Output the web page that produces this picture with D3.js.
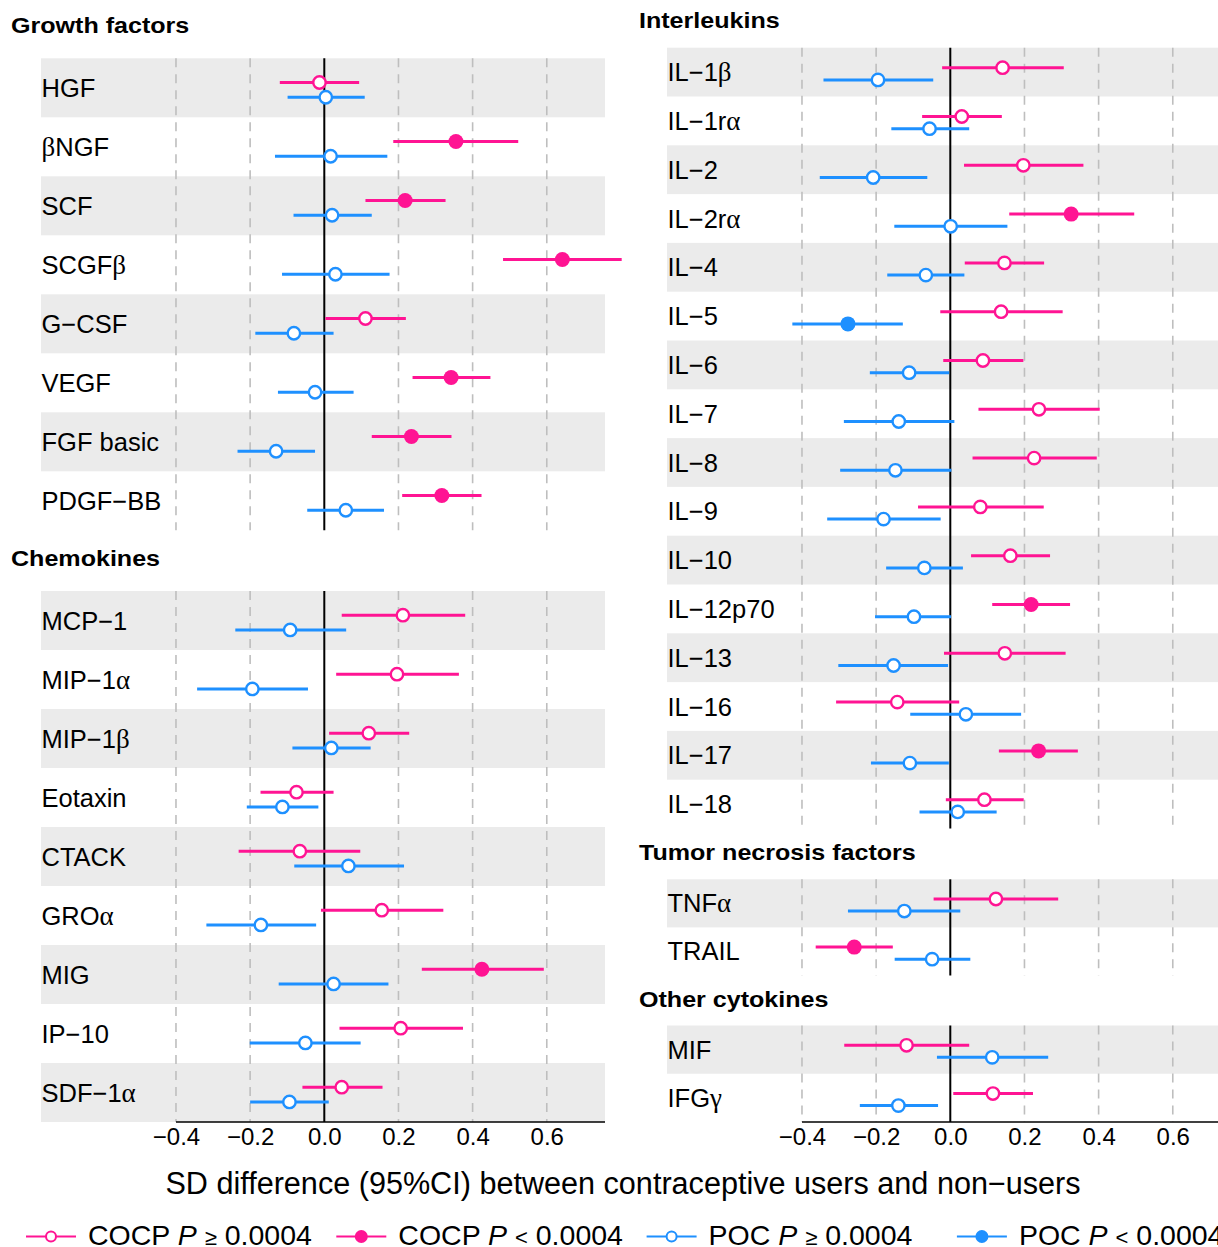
<!DOCTYPE html>
<html>
<head>
<meta charset="utf-8">
<script src="https://cdn.jsdelivr.net/npm/d3@7"></script>
<style>
  body { margin: 0; background: #ffffff; }
  svg { display: block; }
</style>
</head>
<body>
<svg id="chart" width="1218" height="1247"></svg>
<script>
// ---- Data: SD difference (estimate, lower 95% CI, upper 95% CI) ----
// Filled markers flag P < 0.0004.

const growthLabels = ["HGF", "βNGF", "SCF", "SCGFβ", "G−CSF", "VEGF", "FGF basic", "PDGF−BB"];
const growthCocp = [[-0.013, -0.120, 0.094], [0.355, 0.186, 0.523], [0.218, 0.111, 0.327], [0.642, 0.482, 0.802],
                    [0.111, 0.003, 0.220], [0.342, 0.238, 0.448], [0.235, 0.128, 0.343], [0.317, 0.210, 0.424]];
const growthCocpSig = [false, true, true, true, false, true, true, true];
const growthPoc = [[0.004, -0.099, 0.109], [0.017, -0.133, 0.170], [0.021, -0.083, 0.128], [0.030, -0.114, 0.176],
                   [-0.082, -0.186, 0.025], [-0.025, -0.125, 0.079], [-0.130, -0.234, -0.025], [0.058, -0.046, 0.161]];
const growthPocSig = [false, false, false, false, false, false, false, false];

const chemoLabels = ["MCP−1", "MIP−1α", "MIP−1β", "Eotaxin", "CTACK", "GROα", "MIG", "IP−10", "SDF−1α"];
const chemoCocp = [[0.212, 0.047, 0.380], [0.196, 0.032, 0.363], [0.120, 0.013, 0.229], [-0.075, -0.172, 0.025],
                   [-0.066, -0.231, 0.097], [0.155, -0.009, 0.321], [0.425, 0.263, 0.592], [0.206, 0.041, 0.374],
                   [0.047, -0.059, 0.157]];
const chemoCocpSig = [false, false, false, false, false, false, true, false, false];
const chemoPoc = [[-0.092, -0.240, 0.059], [-0.194, -0.343, -0.044], [0.019, -0.086, 0.125], [-0.113, -0.209, -0.016],
                  [0.065, -0.081, 0.215], [-0.171, -0.318, -0.022], [0.025, -0.123, 0.173], [-0.051, -0.201, 0.098],
                  [-0.094, -0.200, 0.012]];
const chemoPocSig = [false, false, false, false, false, false, false, false, false];

const ilLabels = ["IL−1β", "IL−1rα", "IL−2", "IL−2rα", "IL−4", "IL−5", "IL−6", "IL−7", "IL−8", "IL−9",
                  "IL−10", "IL−12p70", "IL−13", "IL−16", "IL−17", "IL−18"];
const ilCocp = [[0.141, -0.022, 0.306], [0.031, -0.076, 0.139], [0.197, 0.037, 0.359], [0.326, 0.159, 0.496],
                [0.146, 0.039, 0.253], [0.137, -0.027, 0.303], [0.088, -0.019, 0.197], [0.239, 0.076, 0.403],
                [0.226, 0.060, 0.395], [0.081, -0.087, 0.252], [0.162, 0.056, 0.269], [0.218, 0.113, 0.323],
                [0.147, -0.017, 0.311], [-0.143, -0.308, 0.024], [0.238, 0.131, 0.344], [0.092, -0.012, 0.198]];
const ilCocpSig = [false, false, false, true, false, false, false, false, false, false, false, true, false, false, true, false];
const ilPoc = [[-0.195, -0.342, -0.046], [-0.056, -0.159, 0.051], [-0.208, -0.352, -0.062], [0.001, -0.151, 0.154],
               [-0.066, -0.170, 0.038], [-0.276, -0.426, -0.128], [-0.111, -0.217, -0.003], [-0.139, -0.287, 0.011],
               [-0.148, -0.297, 0.003], [-0.180, -0.332, -0.026], [-0.070, -0.173, 0.034], [-0.098, -0.203, 0.002],
               [-0.153, -0.302, -0.006], [0.042, -0.108, 0.191], [-0.109, -0.214, -0.004], [0.020, -0.083, 0.125]];
const ilPocSig = [false, false, false, false, false, true, false, false, false, false, false, false, false, false, false, false];

const tnfLabels = ["TNFα", "TRAIL"];
const tnfCocp = [[0.123, -0.045, 0.291], [-0.259, -0.363, -0.155]];
const tnfCocpSig = [false, true];
const tnfPoc = [[-0.124, -0.276, 0.027], [-0.049, -0.150, 0.054]];
const tnfPocSig = [false, false];

const otherLabels = ["MIF", "IFGγ"];
const otherCocp = [[-0.118, -0.286, 0.051], [0.115, 0.008, 0.223]];
const otherCocpSig = [false, false];
const otherPoc = [[0.113, -0.036, 0.264], [-0.140, -0.244, -0.033]];
const otherPocSig = [false, false];

const gridValues = [-0.4, -0.2, 0.2, 0.4, 0.6];
const tickValues = [-0.4, -0.2, 0.0, 0.2, 0.4, 0.6];
const tickLabels = ["−0.4", "−0.2", "0.0", "0.2", "0.4", "0.6"];
const axisTitle = "SD difference (95%CI) between contraceptive users and non−users";
const legendGroups = ["COCP", "COCP", "POC", "POC"];
const legendRelations = ["≥", "<", "≥", "<"];
const legendSig = [false, true, false, true];

// ---- Styling ----
const PINK = "#FF1493";
const BLUE = "#1E90FF";
const BAND = "#EBEBEB";
const GRID = "#BEBEBE";
const SANS = "'Liberation Sans', Arial, Helvetica, sans-serif";
const SERIF = "'Liberation Serif', 'Times New Roman', serif";

const svg = d3.select("#chart");
svg.append("rect").attr("width", 1218).attr("height", 1247).attr("fill", "#fff");

const domainX = [-0.764, 0.757];
const xLeft = d3.scaleLinear().domain(domainX).range([41, 605]);
const xRight = d3.scaleLinear().domain(domainX).range([667, 1231]);

const panels = [
  { title: "Growth factors", labels: growthLabels, cocp: growthCocp, cocpSig: growthCocpSig, poc: growthPoc, pocSig: growthPocSig,
    x: xLeft, titleX: 11, titleY: 33, top: 58.3, bottom: 530.3, axis: false },
  { title: "Chemokines", labels: chemoLabels, cocp: chemoCocp, cocpSig: chemoCocpSig, poc: chemoPoc, pocSig: chemoPocSig,
    x: xLeft, titleX: 11, titleY: 566, top: 591, bottom: 1122, axis: true },
  { title: "Interleukins", labels: ilLabels, cocp: ilCocp, cocpSig: ilCocpSig, poc: ilPoc, pocSig: ilPocSig,
    x: xRight, titleX: 639, titleY: 27.5, top: 47.7, bottom: 828.5, axis: false },
  { title: "Tumor necrosis factors", labels: tnfLabels, cocp: tnfCocp, cocpSig: tnfCocpSig, poc: tnfPoc, pocSig: tnfPocSig,
    x: xRight, titleX: 639, titleY: 860, top: 879.3, bottom: 975.5, axis: false },
  { title: "Other cytokines", labels: otherLabels, cocp: otherCocp, cocpSig: otherCocpSig, poc: otherPoc, pocSig: otherPocSig,
    x: xRight, titleX: 639, titleY: 1006.7, top: 1025.5, bottom: 1122, axis: true }
];

// Writes a label, setting Greek letters in a serif face.
function writeLabel(textSel, str) {
  const parts = str.match(/[α-ωΑ-Ω]+|[^α-ωΑ-Ω]+/g) || [];
  parts.forEach(p => {
    const greek = /[α-ωΑ-Ω]/.test(p);
    textSel.append("tspan")
      .attr("font-family", greek ? SERIF : SANS)
      .attr("font-size", greek ? 27 : null)
      .text(p);
  });
}

function drawMarker(g, cx, cy, color, filled, rOpen, rFilled, sw) {
  if (filled) {
    g.append("circle").attr("cx", cx).attr("cy", cy).attr("r", rFilled).attr("fill", color);
  } else {
    g.append("circle").attr("cx", cx).attr("cy", cy).attr("r", rOpen)
      .attr("fill", "#fff").attr("stroke", color).attr("stroke-width", sw);
  }
}

panels.forEach(p => {
  const g = svg.append("g");
  const x = p.x;
  const y = d3.scaleBand().domain(p.labels).range([p.top, p.bottom]).paddingInner(0).paddingOuter(0);
  const bw = y.bandwidth();
  const [rx0, rx1] = x.range();

  // Section title (wide bold face)
  g.append("text")
    .attr("transform", `translate(${p.titleX},${p.titleY}) scale(1.14,1)`)
    .attr("font-family", SANS).attr("font-weight", "bold").attr("font-size", 22)
    .attr("fill", "#000").text(p.title);

  // Alternate shaded rows
  g.selectAll("rect.band").data(p.labels.filter((d, i) => i % 2 === 0)).join("rect")
    .attr("x", rx0).attr("y", d => y(d)).attr("width", rx1 - rx0).attr("height", bw)
    .attr("fill", BAND);

  // Dashed reference lines
  g.selectAll("line.grid").data(gridValues).join("line")
    .attr("x1", d => x(d)).attr("x2", d => x(d))
    .attr("y1", p.top).attr("y2", p.bottom)
    .attr("stroke", GRID).attr("stroke-width", 1.6).attr("stroke-dasharray", "9,7");

  // Null line
  g.append("line").attr("x1", x(0)).attr("x2", x(0)).attr("y1", p.top).attr("y2", p.bottom)
    .attr("stroke", "#000").attr("stroke-width", 2);

  // Row labels
  p.labels.forEach(lab => {
    const t = g.append("text")
      .attr("x", rx0 + 0.5).attr("y", y(lab) + bw / 2 + 9)
      .attr("font-family", SANS).attr("font-size", 25.5).attr("fill", "#000");
    writeLabel(t, lab);
  });

  // Confidence intervals and point estimates
  const series = [
    { vals: p.cocp, sig: p.cocpSig, color: PINK, off: 0.41 },
    { vals: p.poc, sig: p.pocSig, color: BLUE, off: 0.66 }
  ];
  series.forEach(s => {
    p.labels.forEach((lab, i) => {
      const [est, lo, hi] = s.vals[i];
      const cy = y(lab) + bw * s.off;
      g.append("line").attr("x1", x(lo)).attr("x2", x(hi)).attr("y1", cy).attr("y2", cy)
        .attr("stroke", s.color).attr("stroke-width", 3);
      drawMarker(g, x(est), cy, s.color, s.sig[i], 6.2, 7.5, 2.4);
    });
  });

  // x axis
  if (p.axis) {
    g.append("line").attr("x1", x(tickValues[0])).attr("x2", rx1)
      .attr("y1", p.bottom).attr("y2", p.bottom).attr("stroke", "#000").attr("stroke-width", 1.6);
    const axis = d3.axisBottom(x).tickValues(tickValues).tickSize(0).tickPadding(6)
      .tickFormat((d, i) => tickLabels[i]);
    const ag = g.append("g").attr("transform", `translate(0,${p.bottom})`).call(axis);
    ag.select(".domain").remove();
    ag.selectAll("text").attr("font-family", SANS).attr("font-size", 24).attr("fill", "#000");
  }
});

// Axis title
svg.append("text").attr("x", 623).attr("y", 1194).attr("text-anchor", "middle")
  .attr("font-family", SANS).attr("font-size", 30.6).attr("fill", "#000").text(axisTitle);

// Legend
legendGroups.forEach((grp, i) => {
  const x0 = 26 + i * 310.3;
  const cy = 1236.5;
  const color = grp === "COCP" ? PINK : BLUE;
  const lg = svg.append("g");
  lg.append("line").attr("x1", x0).attr("x2", x0 + 50).attr("y1", cy).attr("y2", cy)
    .attr("stroke", color).attr("stroke-width", 2);
  drawMarker(lg, x0 + 25, cy, color, legendSig[i], 5, 6.5, 2);
  const t = lg.append("text").attr("x", x0 + 62).attr("y", 1245)
    .attr("font-family", SANS).attr("font-size", 28.5).attr("fill", "#000");
  t.append("tspan").text(grp + " ");
  t.append("tspan").attr("font-style", "italic").text("P");
  t.append("tspan").text(" ");
  t.append("tspan").attr("font-size", 22).text(legendRelations[i]);
  t.append("tspan").text(" 0.0004");
});
</script>
</body>
</html>
